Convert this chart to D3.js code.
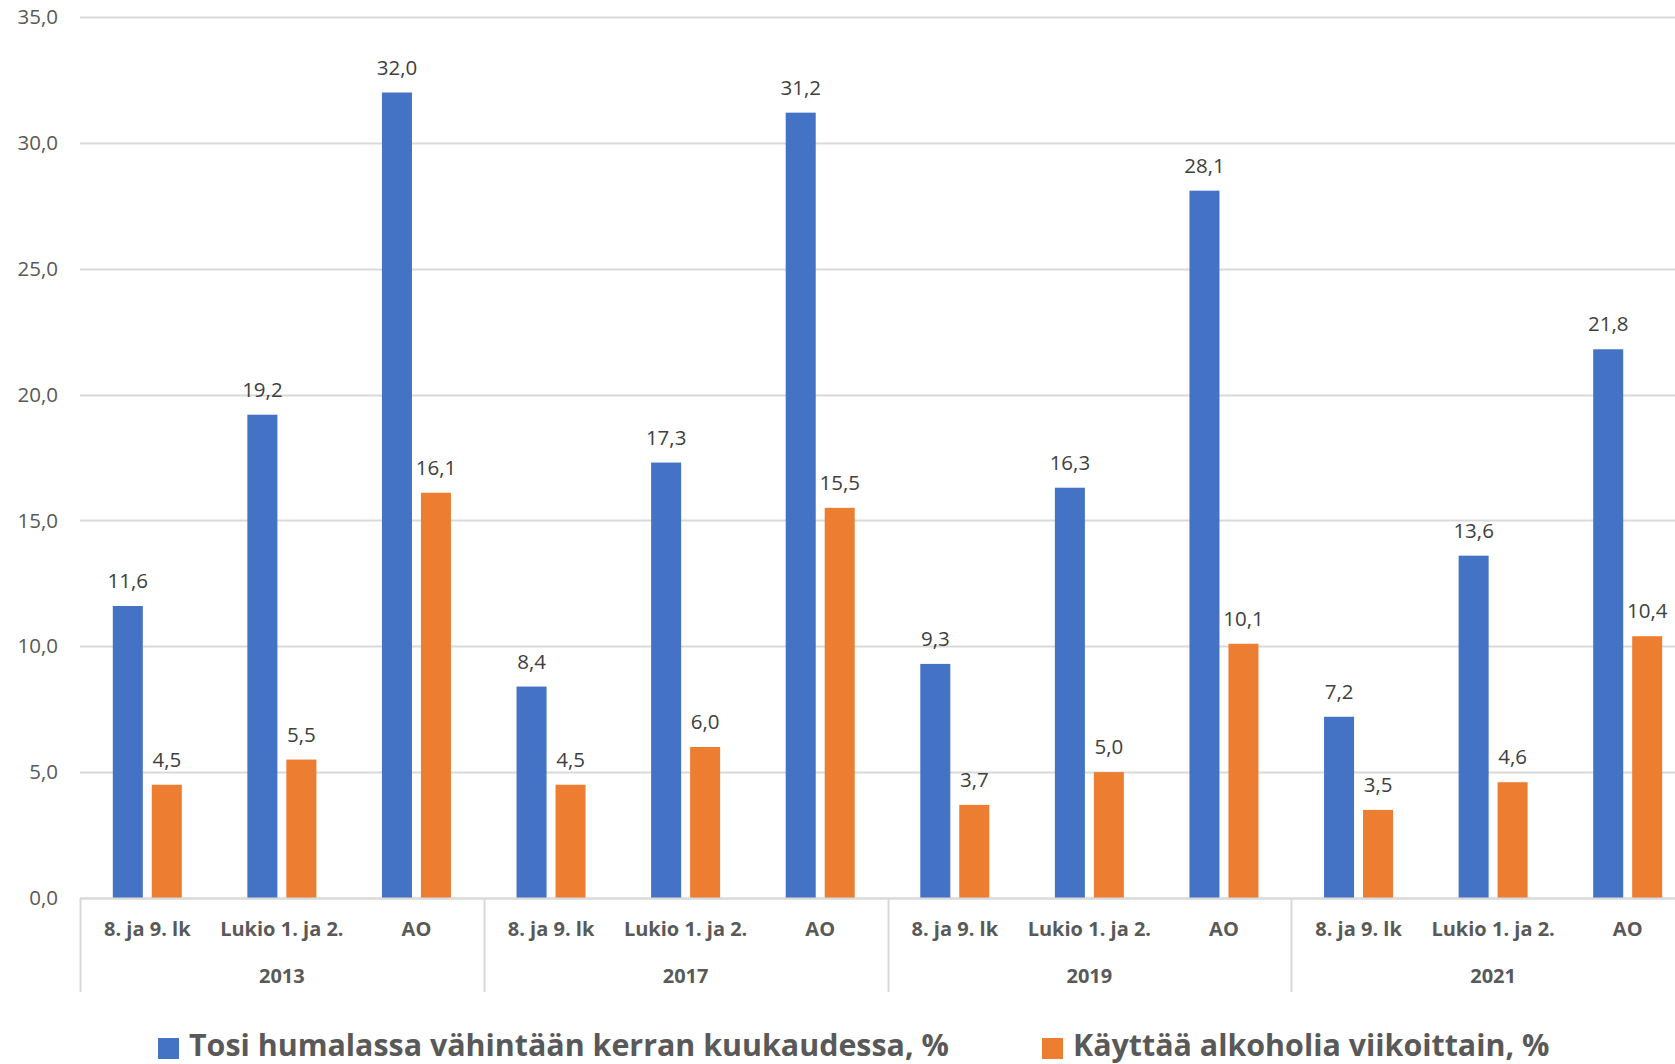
<!DOCTYPE html>
<html>
<head>
<meta charset="utf-8">
<script src="https://cdn.jsdelivr.net/npm/d3@7"></script>
<style>
  html, body { margin: 0; padding: 0; background: #fff; }
  svg { display: block; }
  text { font-family: "Open Sans", "Noto Sans", sans-serif; }
</style>
</head>
<body>
<svg id="chart" width="1675" height="1064"></svg>
<script>
const years = ["2013", "2017", "2019", "2021"];
const groups = ["8. ja 9. lk", "Lukio 1. ja 2.", "AO"];
const seriesNames = ["Tosi humalassa vähintään kerran kuukaudessa, %", "Käyttää alkoholia viikoittain, %"];
const humalassa = [11.6, 19.2, 32.0, 8.4, 17.3, 31.2, 9.3, 16.3, 28.1, 7.2, 13.6, 21.8];
const viikoittain = [4.5, 5.5, 16.1, 4.5, 6.0, 15.5, 3.7, 5.0, 10.1, 3.5, 4.6, 10.4];
const yTicks = [0, 5, 10, 15, 20, 25, 30, 35];
const colors = ["#4472C4", "#ED7D31"];

const W = 1675, H = 1064;
const svg = d3.select("#chart");
svg.append("rect").attr("width", W).attr("height", H).attr("fill", "#fff");

const categories = [];
years.forEach(y => groups.forEach(g => categories.push(y + "|" + g)));

const plotLeft = 80, plotRight = 1695, plotTop = 17, plotBottom = 898;
const x = d3.scaleBand().domain(categories).range([plotLeft, plotRight]).padding(0);
const xYear = d3.scaleBand().domain(years).range([plotLeft, plotRight]).padding(0);
const inner = d3.scaleBand().domain([0, 1]).range([-34.5, 34.5]).paddingInner(0.23);
const y = d3.scaleLinear().domain([0, 35]).range([plotBottom, plotTop]);
const fmt = v => d3.format(".1f")(v).replace(".", ",");

// gridlines
svg.append("g").selectAll("line").data(yTicks).join("line")
  .attr("x1", plotLeft).attr("x2", W)
  .attr("y1", d => Math.round(y(d)) + 0.5).attr("y2", d => Math.round(y(d)) + 0.5)
  .attr("stroke", "#D9D9D9").attr("stroke-width", 2);

// y labels
svg.append("g").selectAll("text").data(yTicks).join("text")
  .attr("x", 58).attr("y", d => y(d)).attr("dy", "0.35em")
  .attr("text-anchor", "end").attr("font-size", 20.5).attr("fill", "#595959")
  .text(fmt);

// bars
const seriesData = [humalassa, viikoittain];
seriesData.forEach((vals, si) => {
  const g = svg.append("g");
  g.selectAll("rect").data(vals).join("rect")
    .attr("x", (d, i) => x(categories[i]) + x.bandwidth() / 2 + inner(si))
    .attr("width", inner.bandwidth())
    .attr("y", d => y(d))
    .attr("height", d => y(0) - y(d))
    .attr("fill", colors[si]);
  g.selectAll("text").data(vals).join("text")
    .attr("x", (d, i) => x(categories[i]) + x.bandwidth() / 2 + inner(si) + inner.bandwidth() / 2)
    .attr("y", d => y(d) - 18)
    .attr("text-anchor", "middle").attr("font-size", 20.5).attr("fill", "#404040")
    .text(fmt);
});

// baseline on top
svg.append("line").attr("x1", plotLeft).attr("x2", W)
  .attr("y1", Math.round(y(0)) + 0.5).attr("y2", Math.round(y(0)) + 0.5)
  .attr("stroke", "#D9D9D9").attr("stroke-width", 2);

// category labels
svg.append("g").selectAll("text").data(categories).join("text")
  .attr("x", d => x(d) + x.bandwidth() / 2).attr("y", 936)
  .attr("text-anchor", "middle").attr("font-size", 20).attr("font-weight", "bold").attr("fill", "#595959")
  .text(d => d.split("|")[1]);

// year separators
const seps = years.map(yr => xYear(yr)).concat([plotRight]);
svg.append("g").selectAll("line").data(seps).join("line")
  .attr("x1", d => Math.round(d) + 0.5).attr("x2", d => Math.round(d) + 0.5)
  .attr("y1", plotBottom).attr("y2", 992)
  .attr("stroke", "#D9D9D9").attr("stroke-width", 2);

// year labels
svg.append("g").selectAll("text").data(years).join("text")
  .attr("x", d => xYear(d) + xYear.bandwidth() / 2).attr("y", 983)
  .attr("text-anchor", "middle").attr("font-size", 20).attr("font-weight", "bold").attr("fill", "#595959")
  .text(d => d);

// legend
const legendX = [158, 1042];
const lg = svg.append("g");
seriesNames.forEach((name, i) => {
  lg.append("rect").attr("x", legendX[i]).attr("y", 1038).attr("width", 21).attr("height", 21).attr("fill", colors[i]);
  lg.append("text").attr("x", legendX[i] + 31).attr("y", 1056)
    .attr("font-size", 30.4).attr("font-weight", "bold").attr("fill", "#595959")
    .text(name);
});
</script>
</body>
</html>
